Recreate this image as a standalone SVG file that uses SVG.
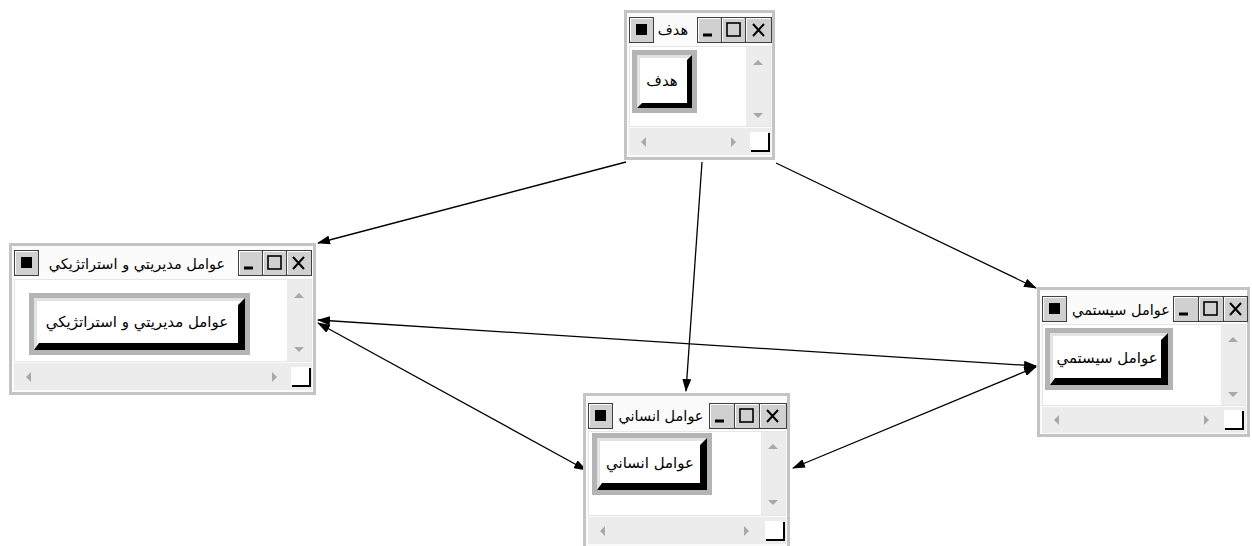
<svg xmlns="http://www.w3.org/2000/svg" width="1252" height="546" viewBox="0 0 1252 546">
<style>
.outer{fill:#fbfbfb;stroke:#c4c4c4;stroke-width:3}
.content{fill:#ffffff;stroke:#e6e6e6;stroke-width:1}
.scroll{fill:#ececec}
.tri{fill:#a8a8a8}
.corner{fill:#ffffff}
.cl{fill:none;stroke:#000;stroke-width:2}
.tb{fill:#d0d0d0;stroke:#404040;stroke-width:1}
.tbhi{fill:none;stroke:#ffffff;stroke-width:1}
.glyph{fill:none;stroke:#000;stroke-width:2}
.frame{fill:#b4b4b4}
.face{fill:#ffffff}
.hi{fill:#e2e2e2}
.sh{fill:#000}
.ttl{font-family:"DejaVu Sans","Noto Sans",sans-serif;font-size:14.5px;fill:#000;text-anchor:middle}
.btxt{font-family:"DejaVu Sans","Noto Sans",sans-serif;font-size:15px;fill:#000;text-anchor:middle}
.conn{fill:none;stroke:#000;stroke-width:1.3}
</style>
<defs>
<marker id="ah" markerWidth="13" markerHeight="9" refX="12" refY="4.5" orient="auto-start-reverse" markerUnits="userSpaceOnUse">
<path d="M0,0 L13,4.5 L0,9 z" fill="#000"/>
</marker>
</defs>

<g id="connectors">
<path class="conn" d="M626,162 L318,243" marker-end="url(#ah)"/>
<path class="conn" d="M702,162 L686,391" marker-end="url(#ah)"/>
<path class="conn" d="M776,163 L1036,288" marker-end="url(#ah)"/>
<path class="conn" d="M318,320 L1036,366" marker-start="url(#ah)" marker-end="url(#ah)"/>
<path class="conn" d="M318,323 L586,470" marker-start="url(#ah)" marker-end="url(#ah)"/>
<path class="conn" d="M793,468 L1036,367" marker-start="url(#ah)" marker-end="url(#ah)"/>
</g>

<!-- Window 1: هدف -->
<g id="node-hadaf">
<rect class="outer" x="625.5" y="11.5" width="148" height="147"/>
<rect class="content" x="629.5" y="46.5" width="141" height="80"/>
<rect class="scroll" x="746" y="47" width="24" height="79"/>
<path class="tri" d="M753,65 L758,60 L763,65 z"/>
<path class="tri" d="M753,113 L758,118 L763,113 z"/>
<rect class="scroll" x="629" y="128" width="142" height="27"/>
<path class="tri" d="M646,137 L641,142 L646,147 z"/>
<path class="tri" d="M731,137 L736,142 L731,147 z"/>
<rect class="corner" x="750" y="132" width="18" height="18"/>
<path class="cl" d="M751,151 L769,151 L769,133"/>
<rect class="tb" x="629.5" y="17.5" width="24" height="25"/>
<path class="tbhi" d="M630.5,41 V18.5 H652"/>
<rect x="636" y="24" width="11" height="11" fill="#000"/>
<rect class="tb" x="697.5" y="17.5" width="24" height="25"/>
<path class="tbhi" d="M698.5,41 V18.5 H720"/>
<path d="M703,35 H712" stroke="#000" stroke-width="3"/>
<rect class="tb" x="721.5" y="17.5" width="24" height="25"/>
<path class="tbhi" d="M722.5,41 V18.5 H744"/>
<rect x="727" y="23" width="13" height="13" fill="none" stroke="#000" stroke-width="1.6"/>
<rect class="tb" x="745.5" y="17.5" width="26" height="25"/>
<path class="tbhi" d="M746.5,41 V18.5 H770"/>
<path class="glyph" d="M753,24 L764,36 M764,24 L753,36"/>
<text class="ttl" x="673" y="35">هدف</text>
<rect class="frame" x="632" y="50" width="65" height="63"/>
<rect class="face" x="637" y="55" width="55" height="53"/>
<path class="hi" d="M637,55 H692 L689,58 H640 V105 L637,108 z"/>
<path class="sh" d="M692,55 V108 H637 L642,103 H687 V60 z"/>
<text class="btxt" x="662" y="86">هدف</text>
</g>

<!-- Window 2: عوامل مديريتي و استراتژيکي -->
<g id="node-modiriati">
<rect class="outer" x="10.5" y="244.5" width="304" height="149"/>
<rect class="content" x="14.5" y="279.5" width="297" height="82"/>
<rect class="scroll" x="287" y="280" width="24" height="81"/>
<path class="tri" d="M294,298 L299,293 L304,298 z"/>
<path class="tri" d="M294,347 L299,352 L304,347 z"/>
<rect class="scroll" x="14" y="363" width="298" height="27"/>
<path class="tri" d="M31,372 L26,377 L31,382 z"/>
<path class="tri" d="M272,372 L277,377 L272,382 z"/>
<rect class="corner" x="291" y="367" width="18" height="18"/>
<path class="cl" d="M292,386 L310,386 L310,368"/>
<rect class="tb" x="14.5" y="250.5" width="24" height="25"/>
<path class="tbhi" d="M15.5,274 V251.5 H37"/>
<rect x="21" y="257" width="11" height="11" fill="#000"/>
<rect class="tb" x="238.5" y="250.5" width="24" height="25"/>
<path class="tbhi" d="M239.5,274 V251.5 H261"/>
<path d="M244,268 H253" stroke="#000" stroke-width="3"/>
<rect class="tb" x="262.5" y="250.5" width="24" height="25"/>
<path class="tbhi" d="M263.5,274 V251.5 H285"/>
<rect x="268" y="256" width="13" height="13" fill="none" stroke="#000" stroke-width="1.6"/>
<rect class="tb" x="286.5" y="250.5" width="25" height="25"/>
<path class="tbhi" d="M287.5,274 V251.5 H310"/>
<path class="glyph" d="M293,257 L304,269 M304,257 L293,269"/>
<text class="ttl" x="137" y="269">عوامل مديريتي و استراتژيکي</text>
<rect class="frame" x="29" y="293" width="221" height="62"/>
<rect class="face" x="34" y="298" width="211" height="52"/>
<path class="hi" d="M34,298 H245 L242,301 H37 V347 L34,350 z"/>
<path class="sh" d="M245,298 V350 H34 L39,343 H238 V305 z"/>
<text class="btxt" x="137" y="327">عوامل مديريتي و استراتژيکي</text>
</g>

<!-- Window 3: عوامل انساني -->
<g id="node-ensani">
<rect class="outer" x="584.5" y="394.5" width="204" height="153"/>
<rect class="content" x="588.5" y="431.5" width="197" height="84"/>
<rect class="scroll" x="761" y="432" width="24" height="83"/>
<path class="tri" d="M768,449 L773,444 L778,449 z"/>
<path class="tri" d="M768,500 L773,505 L778,500 z"/>
<rect class="scroll" x="588" y="517" width="198" height="27"/>
<path class="tri" d="M605,526 L600,531 L605,536 z"/>
<path class="tri" d="M744,526 L749,531 L744,536 z"/>
<rect class="corner" x="765" y="521" width="18" height="18"/>
<path class="cl" d="M766,540 L784,540 L784,522"/>
<rect class="tb" x="588.5" y="403.5" width="24" height="25"/>
<path class="tbhi" d="M589.5,427 V404.5 H611"/>
<rect x="595" y="410" width="11" height="11" fill="#000"/>
<rect class="tb" x="709.5" y="403.5" width="25" height="25"/>
<path class="tbhi" d="M710.5,427 V404.5 H733"/>
<path d="M715,421 H724" stroke="#000" stroke-width="3"/>
<rect class="tb" x="734.5" y="403.5" width="25" height="25"/>
<path class="tbhi" d="M735.5,427 V404.5 H758"/>
<rect x="740" y="409" width="13" height="13" fill="none" stroke="#000" stroke-width="1.6"/>
<rect class="tb" x="759.5" y="403.5" width="27" height="25"/>
<path class="tbhi" d="M760.5,427 V404.5 H785"/>
<path class="glyph" d="M767,410 L778,422 M778,410 L767,422"/>
<text class="ttl" x="661" y="421">عوامل انساني</text>
<rect class="frame" x="592" y="433" width="120" height="62"/>
<rect class="face" x="597" y="438" width="110" height="52"/>
<path class="hi" d="M597,438 H707 L704,441 H600 V487 L597,490 z"/>
<path class="sh" d="M707,438 V490 H597 L602,483 H700 V445 z"/>
<text class="btxt" x="650" y="468">عوامل انساني</text>
</g>

<!-- Window 4: عوامل سيستمي -->
<g id="node-sisitemi">
<rect class="outer" x="1038.5" y="288.5" width="210" height="147"/>
<rect class="content" x="1042.5" y="324.5" width="203" height="81"/>
<rect class="scroll" x="1221" y="325" width="24" height="80"/>
<path class="tri" d="M1228,342 L1233,337 L1238,342 z"/>
<path class="tri" d="M1228,392 L1233,397 L1238,392 z"/>
<rect class="scroll" x="1042" y="407" width="204" height="26"/>
<path class="tri" d="M1059,415 L1054,420 L1059,425 z"/>
<path class="tri" d="M1204,415 L1209,420 L1204,425 z"/>
<rect class="corner" x="1224" y="410" width="18" height="18"/>
<path class="cl" d="M1225,429 L1243,429 L1243,411"/>
<rect class="tb" x="1042.5" y="296.5" width="24" height="25"/>
<path class="tbhi" d="M1043.5,320 V297.5 H1065"/>
<rect x="1049" y="303" width="11" height="11" fill="#000"/>
<rect class="tb" x="1173.5" y="296.5" width="25" height="25"/>
<path class="tbhi" d="M1174.5,320 V297.5 H1197"/>
<path d="M1179,314 H1188" stroke="#000" stroke-width="3"/>
<rect class="tb" x="1198.5" y="296.5" width="25" height="25"/>
<path class="tbhi" d="M1199.5,320 V297.5 H1222"/>
<rect x="1204" y="302" width="13" height="13" fill="none" stroke="#000" stroke-width="1.6"/>
<rect class="tb" x="1223.5" y="296.5" width="24" height="25"/>
<path class="tbhi" d="M1224.5,320 V297.5 H1246"/>
<path class="glyph" d="M1230,303 L1241,315 M1241,303 L1230,315"/>
<text class="ttl" x="1121" y="315">عوامل سيستمي</text>
<rect class="frame" x="1045" y="328" width="128" height="62"/>
<rect class="face" x="1050" y="333" width="118" height="52"/>
<path class="hi" d="M1050,333 H1168 L1165,336 H1053 V382 L1050,385 z"/>
<path class="sh" d="M1168,333 V385 H1050 L1055,378 H1161 V340 z"/>
<text class="btxt" x="1107" y="363">عوامل سيستمي</text>
</g>
</svg>
